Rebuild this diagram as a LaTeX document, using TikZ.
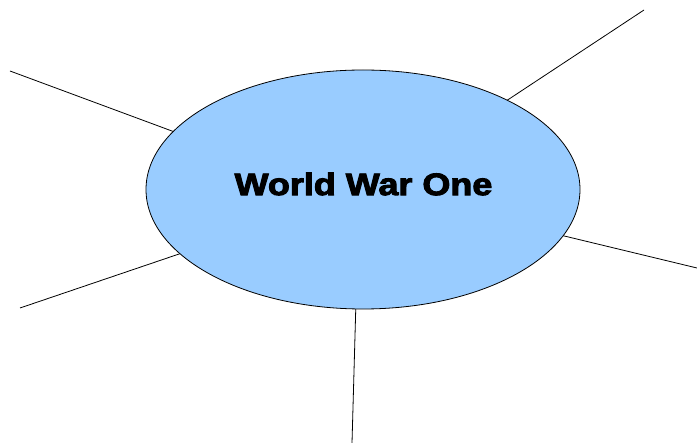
\documentclass[tikz,border=0pt]{standalone}
\usepackage{fontspec}
\newfontfamily\titlefont[FakeBold=3]{Liberation Sans Bold}
\definecolor{ellfill}{HTML}{99CCFF}
\tikzset{
  spoke/.style={draw=black, line width=0.8pt},
  hub/.style={ellipse, draw=black, line width=0.8pt, fill=ellfill, minimum width=434pt, minimum height=239pt, inner sep=0pt},
}
\usetikzlibrary{shapes.geometric}
\begin{document}
\begin{tikzpicture}[x=1pt,y=-1pt]
\useasboundingbox (0,0) rectangle (697,443);
\coordinate (o1) at (10,71);   \coordinate (i1) at (180,134);
\coordinate (o2) at (644,10);  \coordinate (i2) at (500,105);
\coordinate (o3) at (697,268); \coordinate (i3) at (556,234);
\coordinate (o4) at (20,308);  \coordinate (i4) at (182,253);
\coordinate (o5) at (352,443); \coordinate (i5) at (356,300);
\draw[spoke] (o1) -- (i1);
\draw[spoke] (o2) -- (i2);
\draw[spoke] (o3) -- (i3);
\draw[spoke] (o4) -- (i4);
\draw[spoke] (o5) -- (i5);
\node[hub] (hub) at (363,189.5) {};
\node (title) at (363.5,184) {\scalebox{1.16}[1]{\titlefont\fontsize{31}{31}\selectfont World War One}};
\end{tikzpicture}
\end{document}
